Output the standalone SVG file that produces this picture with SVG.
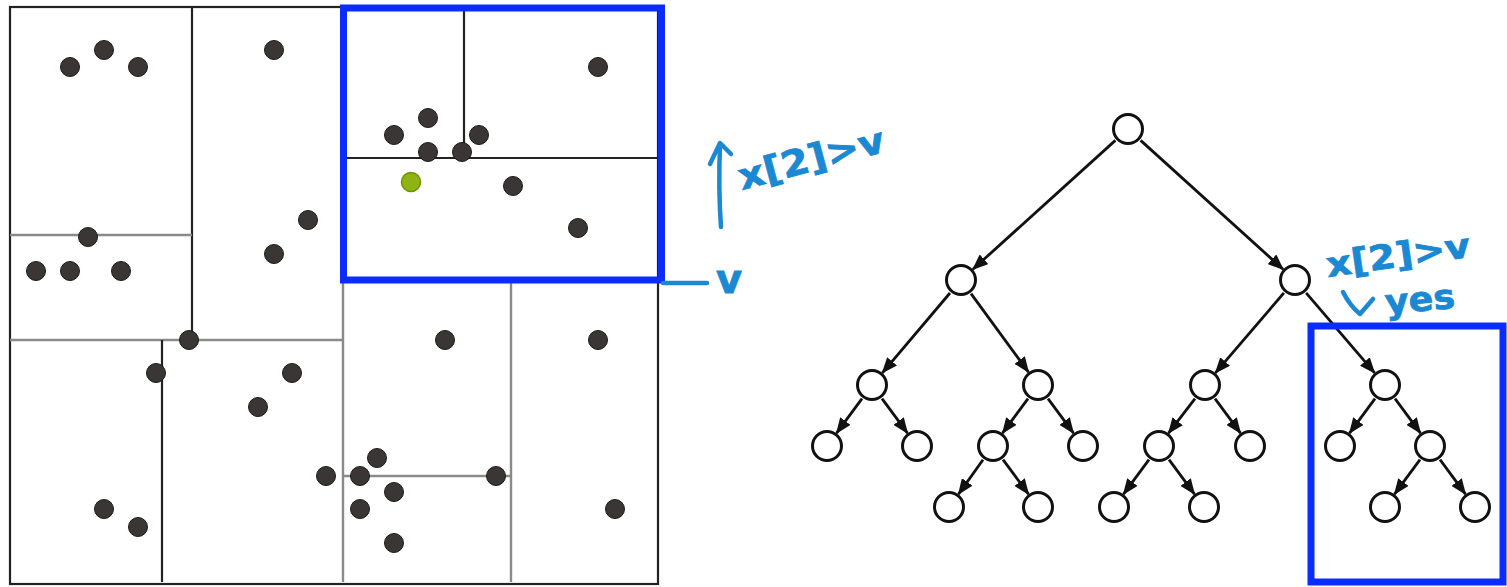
<svg xmlns="http://www.w3.org/2000/svg" width="1507" height="587" viewBox="0 0 1507 587">
<style>
.dk{stroke:#222;stroke-width:2.2;fill:none}
.gr{stroke:#8a8a8a;stroke-width:2.4;fill:none}
.pt{fill:#3b3636;stroke:#1e1a1a;stroke-width:1}
.blue{stroke:#0a2cff;stroke-width:7;fill:none}
.hand{fill:#1a88d2;stroke:#1a88d2;stroke-width:0.8;font-family:"DejaVu Sans",sans-serif;font-weight:bold}
.hl{stroke:#1a88d2;stroke-width:4.5;fill:none;stroke-linecap:round;stroke-linejoin:round}
.node{fill:#fff;stroke:#111;stroke-width:3}
.edge{stroke:#111;stroke-width:2.8;fill:none;marker-end:url(#ah)}
</style>
<defs>
<marker id="ah" markerUnits="userSpaceOnUse" markerWidth="16" markerHeight="13" refX="15" refY="6.5" orient="auto">
<path d="M0,0 L16,6.5 L0,13 z" fill="#111"/>
</marker>
</defs>
<rect width="1507" height="587" fill="#fff"/>

<g id="partition">
<rect x="10" y="7" width="648" height="577" class="dk"/>
<line x1="192" y1="7" x2="192" y2="340" class="dk"/>
<line x1="10" y1="235" x2="192" y2="235" class="gr"/>
<line x1="10" y1="340" x2="343" y2="340" class="gr"/>
<line x1="162" y1="340" x2="162" y2="582" class="dk"/>
<line x1="343" y1="280" x2="343" y2="582" class="gr"/>
<line x1="511" y1="280" x2="511" y2="582" class="gr"/>
<line x1="343" y1="476" x2="511" y2="476" class="gr"/>
<line x1="464" y1="8" x2="464" y2="158" class="dk"/>
<line x1="346" y1="158" x2="657" y2="158" class="dk"/>
<rect x="343.5" y="8" width="318" height="272" class="blue"/>
</g>

<g id="points">
<circle cx="70" cy="67" r="9.5" class="pt"/>
<circle cx="104" cy="50" r="9.5" class="pt"/>
<circle cx="138" cy="67" r="9.5" class="pt"/>
<circle cx="274" cy="50" r="9.5" class="pt"/>
<circle cx="308" cy="220" r="9.5" class="pt"/>
<circle cx="274" cy="254" r="9.5" class="pt"/>
<circle cx="88" cy="237" r="9.5" class="pt"/>
<circle cx="36" cy="271" r="9.5" class="pt"/>
<circle cx="70" cy="271" r="9.5" class="pt"/>
<circle cx="121" cy="271" r="9.5" class="pt"/>
<circle cx="598" cy="67" r="9.5" class="pt"/>
<circle cx="428" cy="118" r="9.5" class="pt"/>
<circle cx="394" cy="135" r="9.5" class="pt"/>
<circle cx="479" cy="135" r="9.5" class="pt"/>
<circle cx="428" cy="152" r="9.5" class="pt"/>
<circle cx="462" cy="152" r="9.5" class="pt"/>
<circle cx="513" cy="186" r="9.5" class="pt"/>
<circle cx="578" cy="228" r="9.5" class="pt"/>
<circle cx="189" cy="340" r="9.5" class="pt"/>
<circle cx="156" cy="373" r="9.5" class="pt"/>
<circle cx="292" cy="373" r="9.5" class="pt"/>
<circle cx="258" cy="407" r="9.5" class="pt"/>
<circle cx="326" cy="476" r="9.5" class="pt"/>
<circle cx="104" cy="509" r="9.5" class="pt"/>
<circle cx="138" cy="527" r="9.5" class="pt"/>
<circle cx="445" cy="340" r="9.5" class="pt"/>
<circle cx="598" cy="340" r="9.5" class="pt"/>
<circle cx="377" cy="458" r="9.5" class="pt"/>
<circle cx="360" cy="476" r="9.5" class="pt"/>
<circle cx="496" cy="476" r="9.5" class="pt"/>
<circle cx="394" cy="492" r="9.5" class="pt"/>
<circle cx="360" cy="509" r="9.5" class="pt"/>
<circle cx="394" cy="543" r="9.5" class="pt"/>
<circle cx="615" cy="509" r="9.5" class="pt"/>
<circle cx="411" cy="182" r="9.5" fill="#8fb412" stroke="#6f9400" stroke-width="1.5"/>
</g>

<g id="annotations">
<path d="M721,227 C719,200 719,170 720,144" class="hl"/>
<path d="M710,164 L720,143 L731,154" class="hl"/>
<text x="742" y="190" font-size="36" class="hand" transform="rotate(-15 742 190)" textLength="150" lengthAdjust="spacingAndGlyphs">x[2]&gt;v</text>
<line x1="663" y1="283" x2="707" y2="283" class="hl"/>
<text x="716" y="293" font-size="40" class="hand">v</text>
<text x="1328" y="277" font-size="34" class="hand" transform="rotate(-8 1328 277)" textLength="145" lengthAdjust="spacingAndGlyphs">x[2]&gt;v</text>
<path d="M1343,292 Q1350,306 1360,314 L1373,299" class="hl"/>
<text x="1386" y="314" font-size="34" class="hand" transform="rotate(-5 1386 314)" textLength="70" lengthAdjust="spacingAndGlyphs">yes</text>
</g>

<g id="connectors">
<line x1="1115.4" y1="140.4" x2="972.9" y2="269.3" class="edge"/>
<line x1="1140.6" y1="140.4" x2="1283.1" y2="269.3" class="edge"/>
<line x1="950" y1="293" x2="882.4" y2="372.8" class="edge"/>
<line x1="971" y1="293.7" x2="1028.5" y2="372.1" class="edge"/>
<line x1="1283.9" y1="292.9" x2="1215.4" y2="372.9" class="edge"/>
<line x1="1306.1" y1="292.9" x2="1374.6" y2="372.9" class="edge"/>
<line x1="862" y1="398.7" x2="836.5" y2="433.1" class="edge"/>
<line x1="882" y1="398.7" x2="907.5" y2="433.1" class="edge"/>
<line x1="1028" y1="398.7" x2="1002.5" y2="433.1" class="edge"/>
<line x1="1048" y1="398.7" x2="1073.5" y2="433.1" class="edge"/>
<line x1="1195" y1="398.7" x2="1168.5" y2="433.1" class="edge"/>
<line x1="1215" y1="398.7" x2="1240.5" y2="433.1" class="edge"/>
<line x1="1375" y1="398.7" x2="1349.5" y2="433.1" class="edge"/>
<line x1="1395" y1="398.7" x2="1420.5" y2="433.1" class="edge"/>
<line x1="983" y1="459.7" x2="958.5" y2="494.1" class="edge"/>
<line x1="1003" y1="459.7" x2="1028.5" y2="494.1" class="edge"/>
<line x1="1149" y1="459.7" x2="1123.5" y2="494.1" class="edge"/>
<line x1="1169" y1="459.7" x2="1194.5" y2="494.1" class="edge"/>
<line x1="1420" y1="459.7" x2="1394.5" y2="494.1" class="edge"/>
<line x1="1440" y1="459.7" x2="1465.5" y2="494.1" class="edge"/>
</g>

<g id="n-root"><circle cx="1128" cy="129" r="14.5" class="node"/></g>
<g id="n-A"><circle cx="961" cy="280" r="14.5" class="node"/></g>
<g id="n-B"><circle cx="1295" cy="280" r="14.5" class="node"/></g>
<g id="n-A1"><circle cx="872" cy="385" r="14.5" class="node"/></g>
<g id="n-A2"><circle cx="1038" cy="385" r="14.5" class="node"/></g>
<g id="n-B1"><circle cx="1205" cy="385" r="14.5" class="node"/></g>
<g id="n-B2"><circle cx="1385" cy="385" r="14.5" class="node"/></g>
<g id="n-A1a"><circle cx="827" cy="446" r="14.5" class="node"/></g>
<g id="n-A1b"><circle cx="917" cy="446" r="14.5" class="node"/></g>
<g id="n-A2a"><circle cx="993" cy="446" r="14.5" class="node"/></g>
<g id="n-A2b"><circle cx="1083" cy="446" r="14.5" class="node"/></g>
<g id="n-B1a"><circle cx="1159" cy="446" r="14.5" class="node"/></g>
<g id="n-B1b"><circle cx="1250" cy="446" r="14.5" class="node"/></g>
<g id="n-B2a"><circle cx="1340" cy="446" r="14.5" class="node"/></g>
<g id="n-B2b"><circle cx="1430" cy="446" r="14.5" class="node"/></g>
<g id="n-A2a1"><circle cx="949" cy="507" r="14.5" class="node"/></g>
<g id="n-A2a2"><circle cx="1038" cy="507" r="14.5" class="node"/></g>
<g id="n-B1a1"><circle cx="1114" cy="507" r="14.5" class="node"/></g>
<g id="n-B1a2"><circle cx="1204" cy="507" r="14.5" class="node"/></g>
<g id="n-B2b1"><circle cx="1385" cy="507" r="14.5" class="node"/></g>
<g id="n-B2b2"><circle cx="1475" cy="507" r="14.5" class="node"/></g>

<g id="highlight"><rect x="1311" y="326" width="192" height="256" class="blue"/></g>
</svg>
